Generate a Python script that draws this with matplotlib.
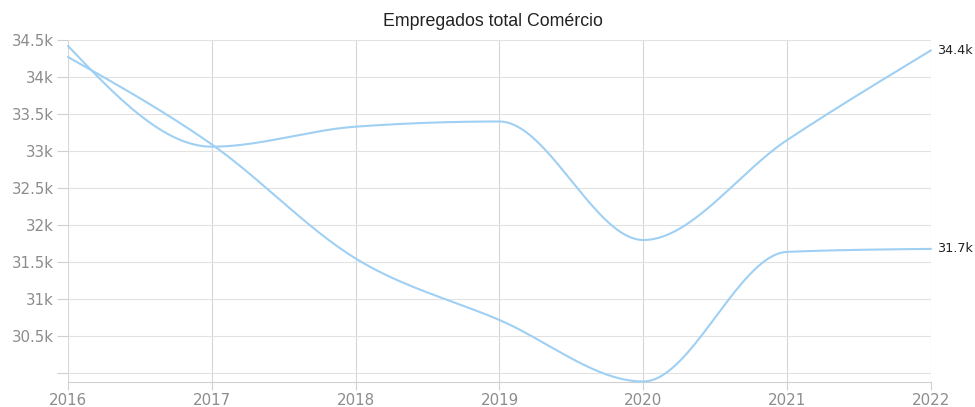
import numpy as np
import matplotlib
matplotlib.use("Agg")
import matplotlib.pyplot as plt

# data
years = [2016, 2017, 2018, 2019, 2020, 2021, 2022]
serie_a = [34420, 33060, 33330, 33400, 31800, 33150, 34360]
serie_b = [34270, 33090, 31550, 30720, 29890, 31640, 31680]
end_labels = ["34.4k", "31.7k"]
y_ticks = [30000, 30500, 31000, 31500, 32000, 32500, 33000, 33500, 34000, 34500]
y_ticklabels = ["", "30.5k", "31k", "31.5k", "32k", "32.5k", "33k", "33.5k", "34k", "34.5k"]

LINE = "#9fd0f3"


def monotone_curve(x, y, n=40):
    """Monotone cubic (Fritsch-Carlson) interpolation, like d3 curveMonotoneX."""
    x = np.asarray(x, float)
    y = np.asarray(y, float)
    h = np.diff(x)
    d = np.diff(y) / h
    m = np.zeros_like(y)
    for i in range(1, len(y) - 1):
        if d[i - 1] * d[i] <= 0:
            m[i] = 0
        else:
            p = (d[i - 1] * h[i] + d[i] * h[i - 1]) / (h[i - 1] + h[i])
            m[i] = np.sign(d[i]) * min(abs(p), 2 * abs(d[i - 1]), 2 * abs(d[i]))
    # ends like d3: 2-point tangent
    m[0] = (3 * d[0] - m[1]) / 2
    m[-1] = (3 * d[-1] - m[-2]) / 2
    xs, ys = [], []
    for i in range(len(x) - 1):
        t = np.linspace(0, 1, n)
        h00 = 2 * t**3 - 3 * t**2 + 1
        h10 = t**3 - 2 * t**2 + t
        h01 = -2 * t**3 + 3 * t**2
        h11 = t**3 - t**2
        xs.append(x[i] + t * h[i])
        ys.append(h00 * y[i] + h10 * h[i] * m[i] + h01 * y[i + 1] + h11 * h[i] * m[i + 1])
    return np.concatenate(xs), np.concatenate(ys)


plt.rcParams['font.family'] = ['DejaVu Sans']

fig = plt.figure(figsize=(9.75, 4.07), dpi=100)
ax = fig.add_axes([68 / 975, 1 - 381.5 / 407, (931 - 68) / 975, (381.5 - 40) / 407])

for serie in (serie_a, serie_b):
    xs, ys = monotone_curve(years, serie)
    ax.plot(xs, ys, color=LINE, lw=1.5, solid_capstyle='round', zorder=3, clip_on=False)

ax.set_xlim(years[0], years[-1])
ax.set_ylim(min(serie_a + serie_b), 34500)

ax.set_xticks(years)
ax.set_xticklabels([str(y) for y in years])
ax.set_yticks(y_ticks)
ax.set_yticklabels(y_ticklabels)

ax.grid(axis='x', color='#d6d6d6', lw=0.8)
ax.grid(axis='y', color='#e2e2e2', lw=0.8)
ax.set_axisbelow(True)

for side in ('top', 'right', 'left'):
    ax.spines[side].set_visible(False)
ax.spines['bottom'].set_color('#d0d0d0')
ax.spines['bottom'].set_linewidth(0.8)

ax.tick_params(axis='x', colors='#d0d0d0', length=6, width=0.8, labelcolor='#8c8c8c', labelsize=10.8, pad=2)
ax.tick_params(axis='y', colors='#d0d0d0', length=8, width=0.8, labelcolor='#8c8c8c', labelsize=10.8, pad=2)

for serie, lab in zip((serie_a, serie_b), end_labels):
    ax.annotate(lab, (years[-1], serie[-1]), xytext=(4, 0), textcoords='offset points',
                fontsize=9.2, color='#222222', va='center', ha='left', annotation_clip=False)

fig.text(493 / 975, 1 - 22 / 407, "Empregados total Comércio",
         ha='center', va='center', fontsize=12.8, color='#222222', family='Liberation Sans')

fig.savefig("out.png", dpi=100)
